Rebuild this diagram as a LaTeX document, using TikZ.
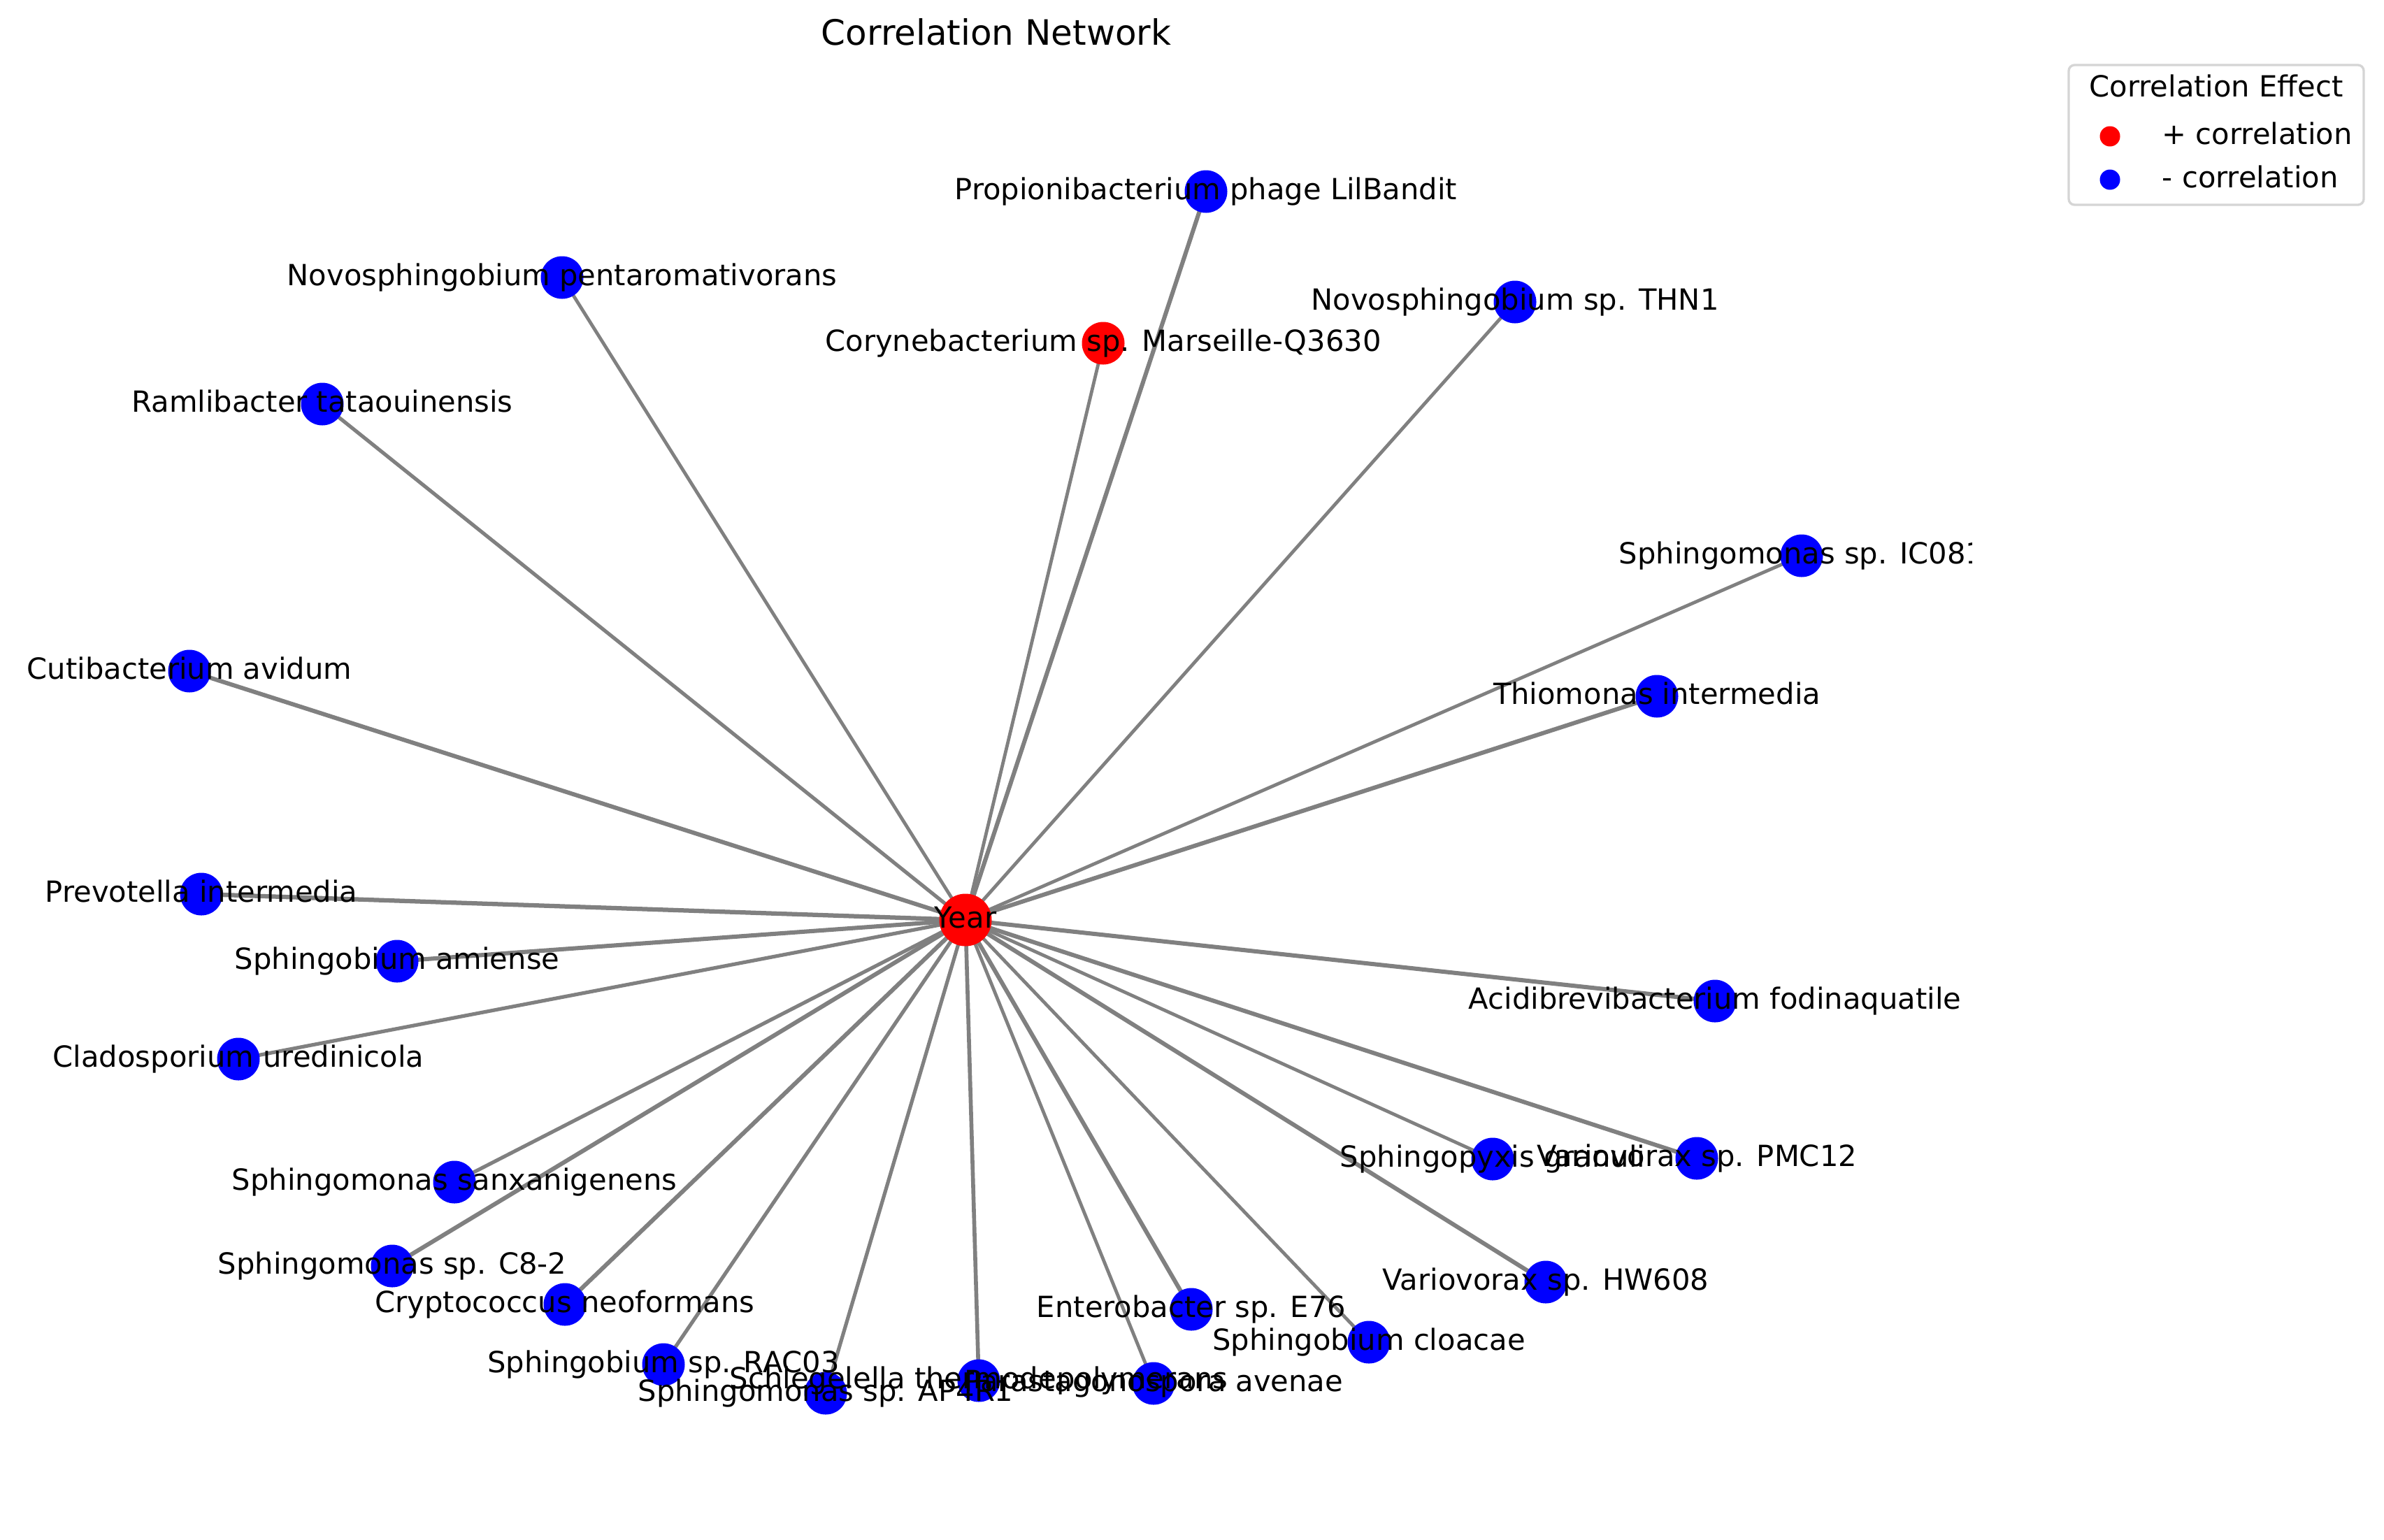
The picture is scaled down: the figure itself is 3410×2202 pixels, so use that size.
\documentclass[tikz,border=0pt]{standalone}
\usepackage{fontspec}
\setmainfont{DejaVu Sans}
\usetikzlibrary{backgrounds}
\definecolor{edgegray}{HTML}{808080}
\definecolor{legframe}{HTML}{D5D5D5}
\begin{document}
\begin{tikzpicture}[x=0.24pt,y=-0.24pt,
  dot/.style={circle,inner sep=0pt,minimum size=14.64pt,fill=blue},
  posdot/.style={dot,fill=red},
  hub/.style={dot,fill=red,minimum size=18pt},
  lbl/.style={inner sep=0pt,font=\fontsize{10}{12}\selectfont,text height=7.6pt,text depth=2.1pt},
  ttl/.style={inner sep=0pt,font=\fontsize{12}{14.4}\selectfont,text height=9.1pt,text depth=2.5pt},
  link/.style={draw=edgegray},
  legmark/.style={circle,inner sep=0pt,minimum size=6.96pt}
]
\useasboundingbox (0,0) rectangle (3410,2202);

% nodes
\node[hub] (yr) at (1381,1316) {};
\node[dot] (n1) at (1725,274) {};
\node[posdot] (n2) at (1578,491) {};
\node[dot] (n3) at (804,397) {};
\node[dot] (n4) at (2167,432) {};
\node[dot] (n5) at (461,578) {};
\node[dot] (n6) at (2577,795) {};
\node[dot] (n7) at (271,960) {};
\node[dot] (n8) at (2370,996) {};
\node[dot] (n9) at (288,1279) {};
\node[dot] (n10) at (568,1375) {};
\node[dot] (n11) at (2453,1432) {};
\node[dot] (n12) at (341,1515) {};
\node[dot] (n13) at (2135,1658) {};
\node[dot] (n14) at (2427,1657) {};
\node[dot] (n15) at (650,1691) {};
\node[dot] (n16) at (561,1811) {};
\node[dot] (n17) at (2211,1834) {};
\node[dot] (n18) at (808,1866) {};
\node[dot] (n19) at (1704,1873) {};
\node[dot] (n20) at (1958,1920) {};
\node[dot] (n21) at (949,1952) {};
\node[dot] (n22) at (1400,1975) {};
\node[dot] (n23) at (1650,1979) {};
\node[dot] (n24) at (1181,1993) {};

% edges beneath the nodes
\begin{pgfonlayer}{background}
\fill[white] (0,0) rectangle (3410,2202);
\foreach \n/\w in {n1/1.45,n2/1.15,n3/1.15,n4/1.15,n5/1.25,n6/1.15,n7/1.45,n8/1.45,
  n9/1.5,n10/1.45,n11/1.45,n12/1.25,n13/1.15,n14/1.45,n15/1.25,n16/1.45,n17/1.45,
  n18/1.45,n19/1.45,n20/1.15,n21/1.25,n22/1.35,n23/1.15,n24/1.25}
  \draw[link,line width=\w pt] (yr.center) -- (\n.center);
\end{pgfonlayer}

% labels (clipped to the axes area)
\begin{scope}
\clip (30,0) rectangle (2820,2202);
\node[lbl] (l0) at (yr) {Year};
\node[lbl] (l1) at (n1) {Propionibacterium phage LilBandit};
\node[lbl] (l2) at (n2) {Corynebacterium sp. Marseille-Q3630};
\node[lbl] (l3) at (n3) {Novosphingobium pentaromativorans};
\node[lbl] (l4) at (n4) {Novosphingobium sp. THN1};
\node[lbl] (l5) at (n5) {Ramlibacter tataouinensis};
\node[lbl] (l6) at (n6) {Sphingomonas sp. IC081};
\node[lbl] (l7) at (n7) {Cutibacterium avidum};
\node[lbl] (l8) at (n8) {Thiomonas intermedia};
\node[lbl] (l9) at (n9) {Prevotella intermedia};
\node[lbl] (l10) at (n10) {Sphingobium amiense};
\node[lbl] (l11) at (n11) {Acidibrevibacterium fodinaquatile};
\node[lbl] (l12) at (n12) {Cladosporium uredinicola};
\node[lbl] (l13) at (n13) {Sphingopyxis granuli};
\node[lbl] (l14) at (n14) {Variovorax sp. PMC12};
\node[lbl] (l15) at (n15) {Sphingomonas sanxanigenens};
\node[lbl] (l16) at (n16) {Sphingomonas sp. C8-2};
\node[lbl] (l17) at (n17) {Variovorax sp. HW608};
\node[lbl] (l18) at (n18) {Cryptococcus neoformans};
\node[lbl] (l19) at (n19) {Enterobacter sp. E76};
\node[lbl] (l20) at (n20) {Sphingobium cloacae};
\node[lbl] (l21) at (n21) {Sphingobium sp. RAC03};
\node[lbl] (l22) at (n22) {Schlegelella thermodepolymerans};
\node[lbl] (l23) at (n23) {Parastagonospora avenae};
\node[lbl] (l24) at (n24) {Sphingomonas sp. AP4R1};
\end{scope}

% title
\node[ttl] (title) at (1425,51) {Correlation Network};

% legend
\node[draw=legframe,line width=0.8pt,fill=white,fill opacity=0.8,draw opacity=1,
  rounded corners=2pt,minimum width=101.28pt,minimum height=48pt,inner sep=0pt]
  (legend) at (3170,193) {};
\node[lbl] (legtitle) at (3170,127) {Correlation Effect};
\node[legmark,fill=red] (mpos) at (3018,195) {};
\node[legmark,fill=blue] (mneg) at (3018,257) {};
\node[lbl,anchor=west] (tpos) at (3092,195) {+ correlation};
\node[lbl,anchor=west] (tneg) at (3092,257) {- correlation};
\end{tikzpicture}
\end{document}
